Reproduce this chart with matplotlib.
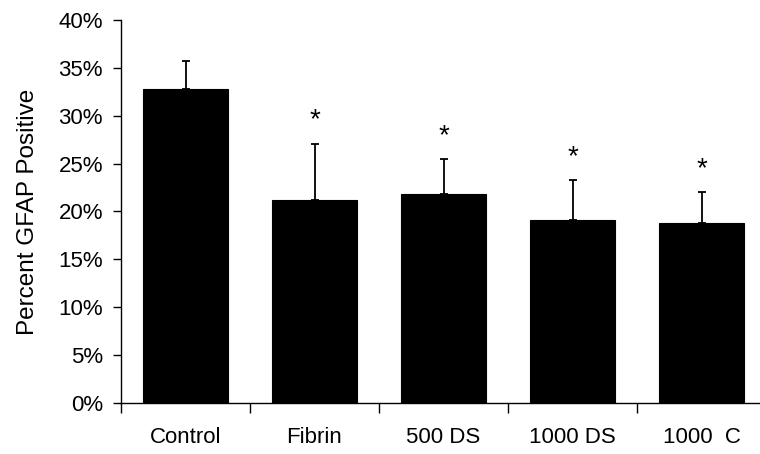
import matplotlib
matplotlib.use("Agg")
import matplotlib.pyplot as plt
from matplotlib.ticker import FixedLocator, PercentFormatter

plt.rcParams["font.family"] = ["Liberation Sans", "DejaVu Sans"]

# Data
groups = ["Control", "Fibrin", "500 DS", "1000 DS", "1000  C"]
means = [32.8, 21.2, 21.8, 19.1, 18.8]
errors = [2.9, 5.9, 3.7, 4.2, 3.2]
significant = [False, True, True, True, True]

fig = plt.figure(figsize=(7.6, 4.54), dpi=100)
ax = fig.add_axes([121 / 760, 51 / 454, 645 / 760, 383 / 454])

x = list(range(len(groups)))
ax.bar(x, means, width=0.665, color="black", edgecolor="black", linewidth=0.8)
ax.errorbar(x, means, yerr=[[0] * len(errors), errors], fmt="none",
            ecolor="black", elinewidth=1.3, capsize=2.7, capthick=1.3)

# Asterisks above the error bars
for xi, m, e, s in zip(x, means, errors, significant):
    if s:
        ax.text(xi, m + e + 2.4, "*", ha="center", va="center", fontsize=20)

ax.set_xlim(-0.5, len(groups) - 0.5)
ax.set_ylim(0, 40)
ax.set_yticks(range(0, 41, 5))
ax.yaxis.set_major_formatter(PercentFormatter(decimals=0))
ax.set_ylabel("Percent GFAP Positive", fontsize=17.5, labelpad=14)

# ticks between categories, labels at category centres
ax.xaxis.set_major_locator(FixedLocator([i - 0.5 for i in range(len(groups) + 1)]))
ax.xaxis.set_minor_locator(FixedLocator(x))
ax.set_xticklabels([])
ax.set_xticklabels(groups, minor=True)
ax.tick_params(axis="x", which="major", direction="out", length=7, width=1)
ax.tick_params(axis="x", which="minor", length=0, pad=17, labelsize=16)
ax.tick_params(axis="y", direction="out", length=6, width=1, labelsize=16, pad=7)

for side in ["top", "right"]:
    ax.spines[side].set_visible(False)
for side in ["left", "bottom"]:
    ax.spines[side].set_linewidth(1)

fig.savefig("out.png", dpi=100)
plt.close(fig)
